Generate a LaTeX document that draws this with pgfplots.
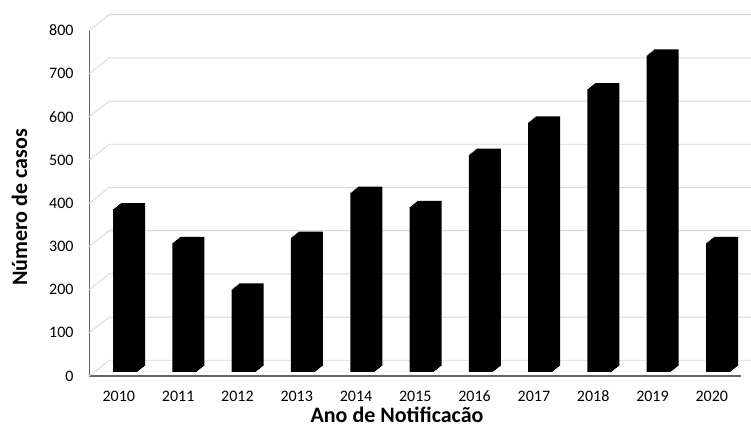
\documentclass[border=0pt]{standalone}
\usepackage{fontspec}
\setmainfont{Carlito}
\usepackage{pgfplots}
\usepackage{pgfplotstable}
\pgfplotsset{compat=1.18}

\definecolor{wallgrid}{RGB}{217,217,217}
\definecolor{axisgray}{RGB}{100,100,100}

% Casos notificados por ano (posição 0 = 2010)
\pgfplotstableread{
pos ano casos
0  2010 377
1  2011 299
2  2012 191
3  2013 311
4  2014 415
5  2015 382
6  2016 503
7  2017 578
8  2018 655
9  2019 733
10 2020 299
}\casos

\begin{document}
\begin{tikzpicture}
\path[use as bounding box] (0,0) rectangle (751pt,427pt);
\begin{axis}[
  at={(89.2pt,51pt)}, anchor=south west,
  scale only axis,
  width=652.2pt, height=345.6pt,
  xmin=-0.5, xmax=10.5,
  ymin=0, ymax=800,
  clip=false,
  axis x line*=bottom, axis y line*=left,
  axis line style={draw=axisgray, line width=1.1pt, -},
  xtick=data,
  xticklabels={2010,2011,2012,2013,2014,2015,2016,2017,2018,2019,2020},
  ytick={0,100,...,800},
  major tick length=0pt,
  /pgf/number format/assume math mode=true,
  yticklabel style={font=\fontsize{16}{18}\selectfont, anchor=east, inner sep=0pt, xshift=-15.5pt},
  xticklabel style={font=\fontsize{16}{18}\selectfont, anchor=base, inner sep=0pt, yshift=-26pt},
]
% paredes laterais e de fundo (efeito 3D)
\pgfplotsinvokeforeach{0,100,...,800}{
  \draw[wallgrid, line width=0.9pt] (axis cs:-0.5,#1) -- ++(20pt,15.7pt) -- ++(700pt,0pt);
}
% barras em prisma: cópias deslocadas formam a face frontal, lateral e superior
\pgfplotsinvokeforeach{0,1,2,3,4,5,6}{
  \addplot[ybar, fill=black, draw=none, bar width=24.5pt,
           bar shift={6.5pt+#1*1.25pt}, yshift={4pt+#1*1pt}]
    table[x=pos, y=casos] {\casos};
}
\end{axis}
\node[rotate=90, anchor=base, font=\bfseries\fontsize{22}{26}\selectfont]
  at (27pt,219.5pt) {Número de casos};
\node[anchor=base, font=\bfseries\fontsize{22}{26}\selectfont]
  at (397pt,4pt) {Ano de Notificacão};
\end{tikzpicture}
\end{document}
